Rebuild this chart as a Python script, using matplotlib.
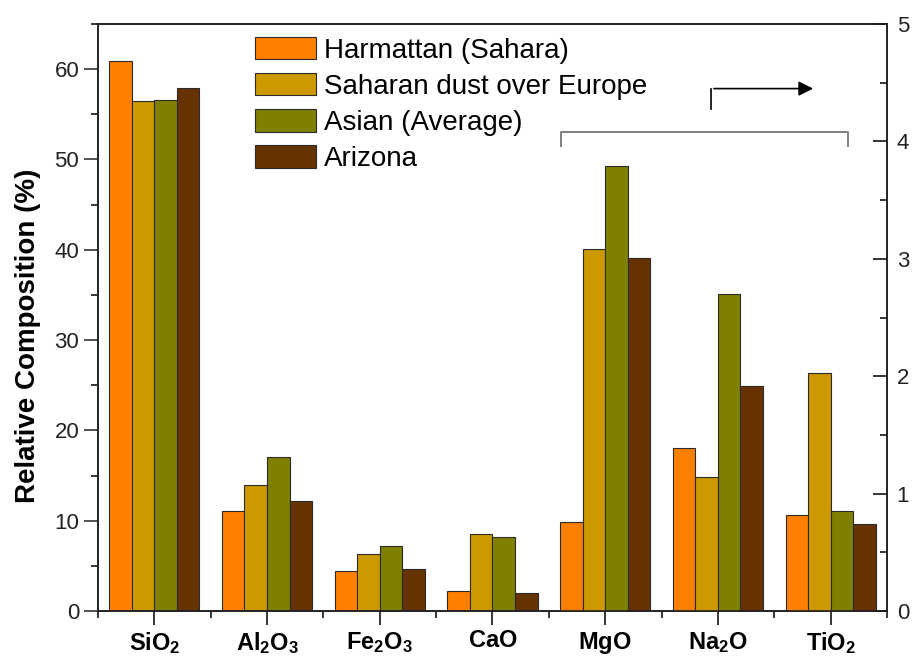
import numpy as np
import matplotlib
matplotlib.use('Agg')
import matplotlib.pyplot as plt
from matplotlib.ticker import MultipleLocator

plt.rcParams['font.family'] = ['Liberation Sans', 'DejaVu Sans']
plt.rcParams['mathtext.fontset'] = 'custom'
plt.rcParams['mathtext.rm'] = 'Liberation Sans'
plt.rcParams['mathtext.bf'] = 'Liberation Sans:bold'

# categories: left-axis oxides (%) and right-axis oxides
left_oxides = [r'$\mathbf{SiO_2}$', r'$\mathbf{Al_2O_3}$', r'$\mathbf{Fe_2O_3}$', r'$\mathbf{CaO}$']
right_oxides = [r'$\mathbf{MgO}$', r'$\mathbf{Na_2O}$', r'$\mathbf{TiO_2}$']
series = ['Harmattan (Sahara)', 'Saharan dust over Europe', 'Asian (Average)', 'Arizona']
colors = ['#FF8000', '#CC9900', '#808000', '#663300']

# values on left axis (SiO2, Al2O3, Fe2O3, CaO)
harmattan_left = [60.9, 11.05, 4.45, 2.25]
saharan_left = [56.5, 13.9, 6.35, 8.55]
asian_left = [56.6, 17.05, 7.25, 8.15]
arizona_left = [57.9, 12.2, 4.7, 2.0]

# values on right axis (MgO, Na2O, TiO2)
harmattan_right = [0.76, 1.39, 0.82]
saharan_right = [3.08, 1.14, 2.03]
asian_right = [3.79, 2.70, 0.85]
arizona_right = [3.01, 1.92, 0.74]

left_vals = [harmattan_left, saharan_left, asian_left, arizona_left]
right_vals = [harmattan_right, saharan_right, asian_right, arizona_right]

fig = plt.figure(figsize=(9.13, 6.6), dpi=100)
ax = fig.add_axes([0.1073, 0.0742, 0.8642, 0.8894])
ax2 = ax.twinx()

n_left = len(left_oxides)
xl = np.arange(n_left)
xr = np.arange(n_left, n_left + len(right_oxides))
w = 0.2
for i in range(4):
    off = (i - 1.5) * w
    ax.bar(xl + off, left_vals[i], w, color=colors[i], edgecolor='#2a2a2a',
           linewidth=0.8, label=series[i])
    ax2.bar(xr + off, right_vals[i], w, color=colors[i], edgecolor='#2a2a2a',
            linewidth=0.8)

ax.set_xlim(-0.5, 6.5)
ax.set_ylim(0, 65)
ax2.set_ylim(0, 5)

ax.set_xticks(np.arange(7))
ax.set_xticklabels(left_oxides + right_oxides, fontsize=17)
ax.xaxis.set_minor_locator(MultipleLocator(1, offset=0.5))
ax.yaxis.set_major_locator(MultipleLocator(10))
ax.yaxis.set_minor_locator(MultipleLocator(5))
ax2.yaxis.set_major_locator(MultipleLocator(1))
ax2.yaxis.set_minor_locator(MultipleLocator(0.5))

ax.tick_params(axis='y', which='major', direction='out', length=10, width=1.1,
               labelsize=16, colors='#222222', labelcolor='#222222', right=False)
ax.tick_params(axis='y', which='minor', direction='out', length=5, width=1.1, right=False)
ax.tick_params(axis='x', which='major', direction='out', length=10, width=1.1, pad=4, top=False)
ax.tick_params(axis='x', which='minor', direction='out', length=5, width=1.1, top=False)
ax2.tick_params(axis='y', which='major', direction='in', length=10, width=1.1,
                labelsize=16, labelcolor='#222222', pad=7)
ax2.tick_params(axis='y', which='minor', direction='in', length=5, width=1.1)

for a in (ax, ax2):
    for s in a.spines.values():
        s.set_linewidth(1.2)
        s.set_color('#222222')

ax.set_ylabel('Relative Composition (%)', fontsize=20, fontweight='bold')
ax.yaxis.set_label_coords(-0.072, 0.468)

leg = ax.legend(loc='upper left', bbox_to_anchor=(0.199, 0.978), frameon=False,
                fontsize=20, handlelength=2.2, handleheight=0.87, handletextpad=0.3,
                labelspacing=0.33, borderpad=0, borderaxespad=0)

# bracket and arrow indicating right-axis oxides
ax2.plot([3.61, 3.61, 6.15, 6.15], [3.96, 4.08, 4.08, 3.96], color='#808080', lw=1.4)
ax2.annotate('', xy=(5.87, 4.45), xytext=(4.94, 4.45),
             arrowprops=dict(arrowstyle='-|>', color='black', lw=1.2, mutation_scale=22))
ax2.plot([4.94, 4.94], [4.28, 4.45], color='black', lw=1.2)

fig.savefig('out.png', dpi=100)
